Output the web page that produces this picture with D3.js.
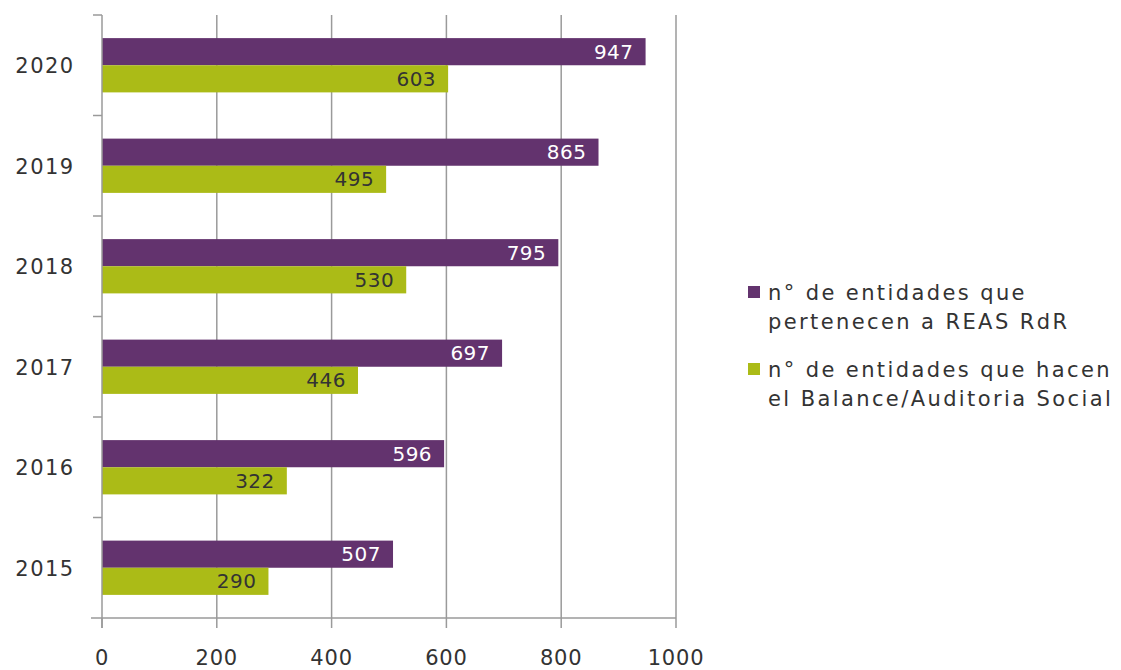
<!DOCTYPE html>
<html>
<head>
<script src="https://d3js.org/d3.v7.min.js"></script>
<style>
  html, body { margin: 0; padding: 0; background: #fff; }
  svg text { font-family: "DejaVu Sans", "Open Sans", sans-serif; fill: #333; }
</style>
</head>
<body>
<div id="chart"></div>
<script>
// data
var years = ["2020", "2019", "2018", "2017", "2016", "2015"];
var members = [947, 865, 795, 697, 596, 507];   // pertenecen a REAS RdR
var audits = [603, 495, 530, 446, 322, 290];    // hacen el Balance/Auditoria Social
var xTicks = [0, 200, 400, 600, 800, 1000];
var legendLines = [
  ["n\u00b0 de entidades que", "pertenecen a REAS RdR"],
  ["n\u00b0 de entidades que hacen", "el Balance/Auditoria Social"]
];
var colors = ["#63336e", "#abbb17"];

var width = 1121, height = 670;
var svg = d3.select("#chart").append("svg")
    .attr("width", width).attr("height", height);

var x = d3.scaleLinear().domain([0, 1000]).range([102, 676]);
var y = d3.scaleBand().domain(years).range([15, 618]).paddingInner(0.46).paddingOuter(0.23);

// vertical gridlines
svg.append("g").selectAll("line")
    .data(xTicks.slice(1))
    .enter().append("line")
    .attr("x1", d => x(d)).attr("x2", d => x(d))
    .attr("y1", 15).attr("y2", 628)
    .attr("stroke", "#9a9a9a").attr("stroke-width", 1.5);

// bars
var rows = years.map((yr, i) => ({year: yr, vals: [members[i], audits[i]]}));
var bh = y.bandwidth() / 2;

var g = svg.append("g");
rows.forEach(function(r) {
  r.vals.forEach(function(v, k) {
    var y0 = y(r.year) + k * bh;
    g.append("rect")
      .attr("x", x(0)).attr("y", y0)
      .attr("width", x(v) - x(0)).attr("height", bh)
      .attr("fill", colors[k]);
    g.append("text")
      .attr("x", x(v) - 12).attr("y", y0 + bh / 2 + 7)
      .attr("text-anchor", "end")
      .attr("font-size", 20)
      .attr("letter-spacing", 0.5)
      .style("fill", k === 0 ? "#fff" : "#333")
      .text(v);
  });
});

// y axis line and ticks between categories
svg.append("line")
    .attr("x1", x(0)).attr("x2", x(0)).attr("y1", 15).attr("y2", 628)
    .attr("stroke", "#9a9a9a").attr("stroke-width", 1.5);
var sepTicks = d3.range(years.length).map(i => 15 + i * (603 / years.length));
svg.append("g").selectAll("line")
    .data(sepTicks)
    .enter().append("line")
    .attr("x1", 93).attr("x2", x(0))
    .attr("y1", d => d).attr("y2", d => d)
    .attr("stroke", "#9a9a9a").attr("stroke-width", 1.5);

// x axis line
svg.append("line")
    .attr("x1", 91).attr("x2", x(1000)).attr("y1", 618).attr("y2", 618)
    .attr("stroke", "#9a9a9a").attr("stroke-width", 1.5);
svg.append("line")
    .attr("x1", x(0)).attr("x2", x(0)).attr("y1", 618).attr("y2", 628)
    .attr("stroke", "#9a9a9a").attr("stroke-width", 1.5);

// x tick labels
svg.append("g").selectAll("text")
    .data(xTicks)
    .enter().append("text")
    .attr("x", d => x(d)).attr("y", 665)
    .attr("text-anchor", "middle")
    .attr("font-size", 21)
    .attr("letter-spacing", 0.8)
    .text(d => d);

// year labels
svg.append("g").selectAll("text")
    .data(years)
    .enter().append("text")
    .attr("x", 45).attr("y", d => y(d) + y.bandwidth() / 2 + 8)
    .attr("text-anchor", "middle")
    .attr("font-size", 21)
    .attr("letter-spacing", 1.5)
    .text(d => d);

// legend
var legendY = [286, 363];
legendLines.forEach(function(lines, k) {
  svg.append("rect")
    .attr("x", 748).attr("y", legendY[k])
    .attr("width", 12).attr("height", 12)
    .attr("fill", colors[k]);
  lines.forEach(function(t, j) {
    svg.append("text")
      .attr("x", 768).attr("y", legendY[k] + 14 + j * 29)
      .attr("font-size", 21)
      .attr("letter-spacing", 2.4)
      .text(t);
  });
});
</script>
</body>
</html>
